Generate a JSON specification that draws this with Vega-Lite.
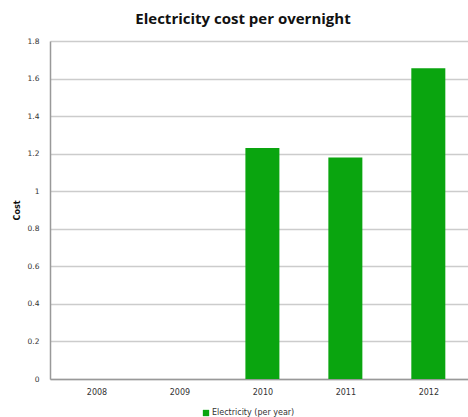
{
  "$schema": "https://vega.github.io/schema/vega-lite/v6.json",
  "width": 418,
  "height": 338,
  "autosize": "none",
  "padding": {"left": 50, "top": 41, "right": 0, "bottom": 38},
  "background": "white",
  "title": {
    "text": "Electricity cost per overnight",
    "font": "Open Sans",
    "fontSize": 15,
    "fontWeight": "bold",
    "color": "#111111",
    "anchor": "middle",
    "dx": -16,
    "offset": 10
  },
  "data": {
    "values": [
      {"year": 2008, "cost": 0, "series": "Electricity (per year)"},
      {"year": 2009, "cost": 0, "series": "Electricity (per year)"},
      {"year": 2010, "cost": 1.23, "series": "Electricity (per year)"},
      {"year": 2011, "cost": 1.18, "series": "Electricity (per year)"},
      {"year": 2012, "cost": 1.655, "series": "Electricity (per year)"}
    ]
  },
  "mark": {"type": "bar", "size": 34},
  "encoding": {
    "x": {
      "field": "year",
      "type": "quantitative",
      "scale": {"domain": [2007.5, 2012.418], "nice": false, "zero": false},
      "axis": {
        "title": null,
        "values": [2008, 2009, 2010, 2011, 2012],
        "format": "d",
        "grid": false,
        "ticks": false,
        "domainColor": "#999999",
        "domainWidth": 1.5,
        "labelFont": "DejaVu Sans",
        "labelFontSize": 8,
        "labelColor": "#333333",
        "labelPadding": 9
      }
    },
    "y": {
      "field": "cost",
      "type": "quantitative",
      "scale": {"domain": [0, 1.8], "nice": false},
      "axis": {
        "title": "Cost",
        "titleFont": "DejaVu Sans",
        "titleFontSize": 8,
        "titleFontWeight": "bold",
        "titleColor": "#111111",
        "titlePadding": 6,
        "values": [0, 0.2, 0.4, 0.6, 0.8, 1, 1.2, 1.4, 1.6, 1.8],
        "format": ".1~f",
        "ticks": false,
        "grid": true,
        "gridColor": "#cccccc",
        "gridWidth": 1.5,
        "domainColor": "#999999",
        "domainWidth": 1.5,
        "labelFont": "DejaVu Sans",
        "labelFontSize": 7.5,
        "labelColor": "#333333",
        "labelPadding": 11
      }
    },
    "color": {
      "field": "series",
      "type": "nominal",
      "scale": {"range": ["#0aa50f"]},
      "legend": {
        "title": null,
        "orient": "none",
        "legendX": 152,
        "legendY": 368,
        "symbolType": "square",
        "symbolSize": 40,
        "symbolOpacity": 1,
        "labelFont": "DejaVu Sans",
        "labelFontSize": 8,
        "labelColor": "#333333",
        "labelOffset": 2
      }
    }
  },
  "config": {
    "view": {"stroke": null}
  }
}
